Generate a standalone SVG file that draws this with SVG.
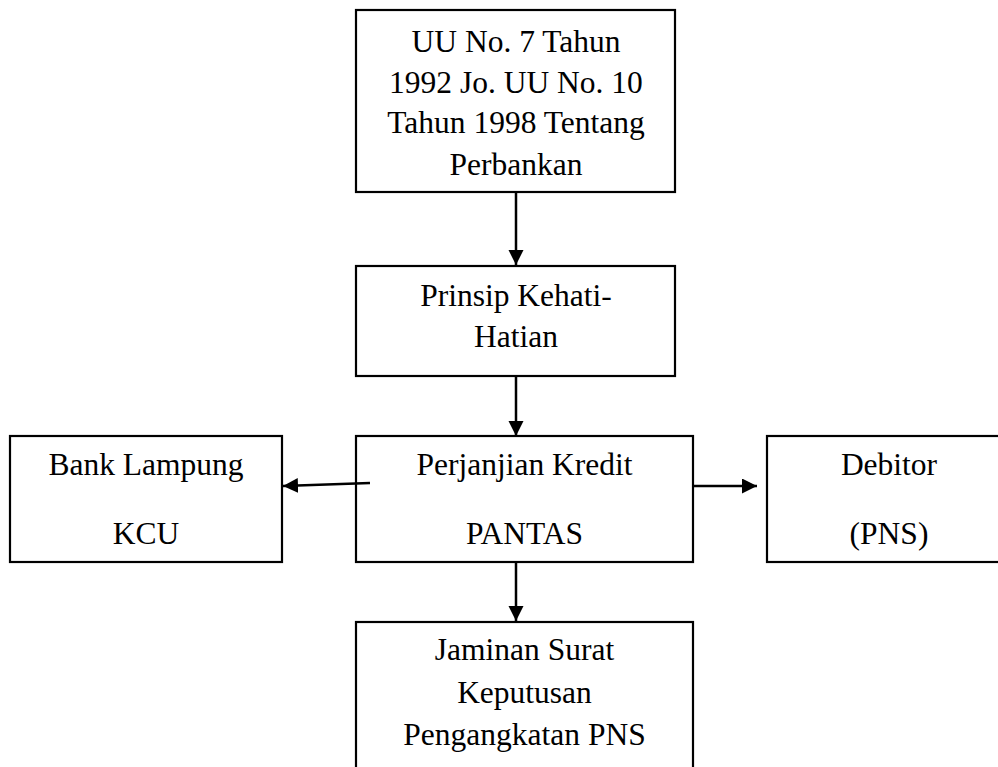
<svg xmlns="http://www.w3.org/2000/svg" width="998" height="767" viewBox="0 0 998 767">
<defs>
<marker id="ah" markerUnits="userSpaceOnUse" markerWidth="16" markerHeight="16" refX="15" refY="7.5" orient="auto">
<path d="M0,0 L15,7.5 L0,15 Z" fill="#000"/>
</marker>
<style>
.box{fill:#fff;stroke:#000;stroke-width:2.2}
.t{font-family:"Liberation Serif","Times New Roman",serif;font-size:31.5px;fill:#000;text-anchor:middle}
.c{stroke:#000;stroke-width:2.5;fill:none;marker-end:url(#ah)}
</style>
</defs>
<rect width="998" height="767" fill="#fff"/>
<g id="n-uu">
<rect class="box" x="356" y="10" width="319" height="182"/>
<text class="t" x="516" y="52">UU No. 7 Tahun</text>
<text class="t" x="516" y="93">1992 Jo. UU No. 10</text>
<text class="t" x="516" y="133">Tahun 1998 Tentang</text>
<text class="t" x="516" y="175">Perbankan</text>
</g>
<g id="n-prinsip">
<rect class="box" x="356" y="266" width="319" height="110"/>
<text class="t" x="516" y="306">Prinsip Kehati-</text>
<text class="t" x="516" y="347">Hatian</text>
</g>
<g id="n-perjanjian">
<rect class="box" x="356" y="436" width="337" height="126"/>
<text class="t" x="524.5" y="475">Perjanjian Kredit</text>
<text class="t" x="524.5" y="544">PANTAS</text>
</g>
<g id="n-bank">
<rect class="box" x="10" y="436" width="272" height="126"/>
<text class="t" x="146" y="475">Bank Lampung</text>
<text class="t" x="146" y="544">KCU</text>
</g>
<g id="n-debitor">
<rect class="box" x="767" y="436" width="244" height="126"/>
<text class="t" x="889" y="475">Debitor</text>
<text class="t" x="889" y="544">(PNS)</text>
</g>
<g id="n-jaminan">
<rect class="box" x="356" y="622" width="337" height="170"/>
<text class="t" x="524.5" y="660">Jaminan Surat</text>
<text class="t" x="524.5" y="703">Keputusan</text>
<text class="t" x="524.5" y="745">Pengangkatan PNS</text>
</g>
<g id="connectors">
<line class="c" x1="516" y1="192" x2="516" y2="265"/>
<line class="c" x1="516" y1="376" x2="516" y2="436"/>
<line class="c" x1="370" y1="483" x2="283" y2="486"/>
<line class="c" x1="693" y1="486" x2="757" y2="486"/>
<line class="c" x1="516" y1="562" x2="516" y2="621"/>
</g>
</svg>
